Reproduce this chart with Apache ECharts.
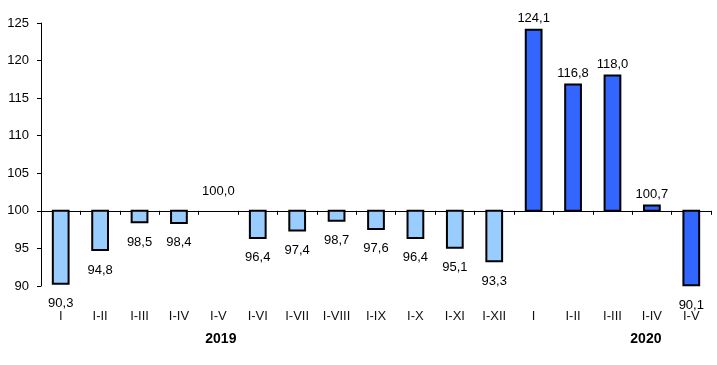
<!DOCTYPE html>
<html>
<head>
<meta charset="utf-8">
<script src="https://cdn.jsdelivr.net/npm/echarts@6/dist/echarts.min.js"></script>
<style>
html,body{margin:0;padding:0;background:#fff;}
#c{width:717px;height:365px;}
</style>
</head>
<body>
<div id="c"></div>
<script>
// ---- data ----
const categories = ['I','I-II','I-III','I-IV','I-V','I-VI','I-VII','I-VIII','I-IX','I-X','I-XI','I-XII','I','I-II','I-III','I-IV','I-V'];
const values2019 = [90.3, 94.8, 98.5, 98.4, 100.0, 96.4, 97.4, 98.7, 97.6, 96.4, 95.1, 93.3];
const values2020 = [124.1, 116.8, 118.0, 100.7, 90.1];
const yearLabels = ['2019', '2020'];
const yearLabelIndex = [4, 15];
const yTicks = [90, 95, 100, 105, 110, 115, 120, 125];
const baseValue = 100;

// ---- chart ----
const FONT = '"Liberation Sans", Arial, sans-serif';
const gridTop = 23, gridBottom = 79, chartH = 365;
const gridHeight = chartH - gridTop - gridBottom;
const yMin = yTicks[0], yMax = yTicks[yTicks.length - 1];
const baseOffset = -gridHeight * (baseValue - yMin) / (yMax - yMin);

const allValues = values2019.concat(values2020);
const seriesData = allValues.map((v, i) => [i, v, i < values2019.length ? 0 : 1]);
const fillColors = ['#99CCFF', '#3366FF'];

function fmt(v) { return v.toFixed(1).replace('.', ','); }

const chart = echarts.init(document.getElementById('c'), null, {renderer: 'canvas'});
chart.setOption({
  animation: false,
  backgroundColor: '#fff',
  grid: {left: 41, right: 6, top: gridTop, bottom: gridBottom, containLabel: false},
  xAxis: [
    {
      type: 'category', data: categories, position: 'bottom',
      axisLine: {show: false}, axisTick: {show: false},
      axisLabel: {interval: 0, margin: 24, fontFamily: FONT, fontSize: 13, color: '#111'}
    },
    {
      type: 'category', data: categories, position: 'bottom', offset: baseOffset,
      axisLine: {show: true, lineStyle: {color: '#000', width: 1}},
      axisTick: {show: true, inside: false, length: 4, lineStyle: {color: '#000'}},
      axisLabel: {show: false}
    },
    {
      type: 'category', data: categories, position: 'bottom',
      axisLine: {show: false}, axisTick: {show: false},
      axisLabel: {
        interval: 0, margin: 46, fontFamily: FONT, fontSize: 14, fontWeight: 'bold', color: '#000',
        formatter: function (val, idx) {
          const k = yearLabelIndex.indexOf(idx);
          if (k < 0) return '';
          return '{y' + k + '|' + yearLabels[k] + '}';
        },
        rich: {
          y0: {fontFamily: FONT, fontSize: 14, fontWeight: 'bold', color: '#000', padding: [0, 0, 0, 5]},
          y1: {fontFamily: FONT, fontSize: 14, fontWeight: 'bold', color: '#000', padding: [0, 12, 0, 0]}
        }
      }
    }
  ],
  yAxis: {
    type: 'value', min: yMin, max: yMax, interval: 5,
    splitLine: {show: false},
    axisLine: {show: true, lineStyle: {color: '#000', width: 1}},
    axisTick: {show: true, length: 4, lineStyle: {color: '#000'}},
    axisLabel: {margin: 12, fontFamily: FONT, fontSize: 13, color: '#000'}
  },
  series: [{
    type: 'custom',
    xAxisIndex: 0,
    data: seriesData,
    renderItem: function (params, api) {
      const idx = api.value(0);
      const v = api.value(1);
      const grp = api.value(2);
      const base = api.coord([idx, baseValue]);
      const end = api.coord([idx, v]);
      const w = api.size([1, 0])[0] * 0.4;
      const top = Math.min(base[1], end[1]);
      const h = Math.abs(base[1] - end[1]);
      const up = v >= baseValue;
      const children = [];
      if (h > 0.5) {
        children.push({
          type: 'rect',
          shape: {x: base[0] - w / 2, y: top, width: w, height: h},
          style: {fill: fillColors[grp], stroke: '#000', lineWidth: 2}
        });
      }
      children.push({
        type: 'text',
        style: {
          text: fmt(v), x: base[0], y: up ? (h > 0.5 ? end[1] - 11 : end[1] - 19) : end[1] + 20,
          textAlign: 'center', textVerticalAlign: 'middle',
          font: '13px ' + FONT, fill: '#000'
        }
      });
      return {type: 'group', children: children};
    }
  }]
});
</script>
</body>
</html>
